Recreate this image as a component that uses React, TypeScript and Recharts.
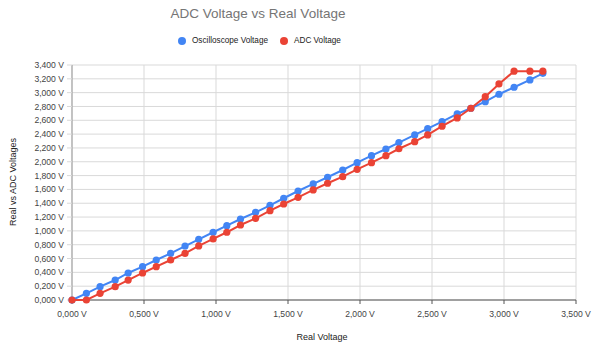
import { ScatterChart, Scatter, XAxis, YAxis, CartesianGrid } from 'recharts';

// measurement steps, all in mV
const realVoltage = [
  0, 100, 195, 300, 390, 490, 585, 685, 785, 880, 980, 1075, 1170, 1275, 1375, 1470, 1570,
  1675, 1775, 1880, 1980, 2080, 2180, 2270, 2380, 2470, 2570, 2675, 2770, 2870, 2965, 3070,
  3180, 3270,
];
const oscilloscopeVoltage = [
  0, 97, 193, 289, 391, 482, 579, 675, 781, 878, 980, 1075, 1172, 1269, 1370, 1472, 1577,
  1679, 1776, 1881, 1987, 2088, 2185, 2277, 2388, 2479, 2580, 2692, 2774, 2870, 2977, 3078,
  3184, 3280,
];
const adcVoltage = [
  0, 0, 97, 193, 289, 391, 482, 579, 675, 783, 883, 980, 1085, 1182, 1293, 1389, 1486, 1592,
  1689, 1785, 1891, 1987, 2088, 2188, 2291, 2388, 2514, 2634, 2774, 2942, 3126, 3310, 3310,
  3310,
];
const xTicks = [0, 500, 1000, 1500, 2000, 2500, 3000, 3500];
const yTicks = [
  0, 200, 400, 600, 800, 1000, 1200, 1400, 1600, 1800, 2000, 2200, 2400, 2600, 2800, 3000,
  3200, 3400,
];

const BLUE = '#4285F4';
const RED = '#EA4335';
const FONT = '"Liberation Sans", Arial, sans-serif';

const oscData = realVoltage.map((x, i) => ({ x, y: oscilloscopeVoltage[i] }));
const adcData = realVoltage.map((x, i) => ({ x, y: adcVoltage[i] }));

const fmt = (v: number) => (v / 1000).toFixed(3).replace('.', ',') + ' V';

const dot = (color: string) => (p: any) => <circle cx={p.cx} cy={p.cy} r={3.6} fill={color} />;

export default function App() {
  return (
    <div style={{ position: 'relative', width: 592, height: 345, fontFamily: FONT }}>
      <style>{'html, body { margin: 0; overflow: hidden; }'}</style>
      <ScatterChart width={592} height={345} margin={{ top: 65, right: 16, bottom: 0, left: 0 }}>
        <CartesianGrid stroke="#d9d9d9" />
        <XAxis
          type="number"
          dataKey="x"
          domain={[0, 3500]}
          ticks={xTicks}
          interval={0}
          tickFormatter={fmt}
          height={45}
          tickSize={4}
          tickMargin={7}
          stroke="#555"
          tick={{ fontSize: 8.6, fill: '#444', fontFamily: FONT }}
        />
        <YAxis
          type="number"
          dataKey="y"
          domain={[0, 3400]}
          ticks={yTicks}
          interval={0}
          tickFormatter={fmt}
          width={72}
          tickSize={5}
          tickMargin={3}
          stroke="#999"
          tickLine={{ stroke: '#d9d9d9' }}
          tick={{ fontSize: 8.6, fill: '#444', fontFamily: FONT }}
        />
        <Scatter
          name="Oscilloscope Voltage"
          data={oscData}
          fill={BLUE}
          line={{ stroke: BLUE, strokeWidth: 2 }}
          shape={dot(BLUE)}
          isAnimationActive={false}
        />
        <Scatter
          name="ADC Voltage"
          data={adcData}
          fill={RED}
          line={{ stroke: RED, strokeWidth: 2 }}
          shape={dot(RED)}
          isAnimationActive={false}
        />
      </ScatterChart>
      <div
        style={{
          position: 'absolute',
          zIndex: 2,
          top: 6,
          left: 0,
          width: 516,
          textAlign: 'center',
          fontSize: 13.5,
          color: '#757575',
        }}
      >
        ADC Voltage vs Real Voltage
      </div>
      <div
        style={{
          position: 'absolute',
          zIndex: 2,
          top: 36,
          left: 178,
          display: 'flex',
          alignItems: 'center',
          fontSize: 8.2,
          color: '#222',
        }}
      >
        <span style={{ width: 8, height: 8, borderRadius: 4, background: BLUE, marginRight: 6 }} />
        <span style={{ marginRight: 12 }}>Oscilloscope Voltage</span>
        <span style={{ width: 8, height: 8, borderRadius: 4, background: RED, marginRight: 6 }} />
        <span>ADC Voltage</span>
      </div>
      {/* axis titles */}
      <div
        style={{
          position: 'absolute',
          zIndex: 2,
          top: 332,
          left: 272,
          width: 100,
          textAlign: 'center',
          fontSize: 9,
          lineHeight: '10px',
          color: '#222',
        }}
      >
        Real Voltage
      </div>
      <div
        style={{
          position: 'absolute',
          zIndex: 2,
          top: 177,
          left: -37,
          width: 100,
          textAlign: 'center',
          fontSize: 9,
          color: '#222',
          transform: 'rotate(-90deg)',
          whiteSpace: 'nowrap',
        }}
      >
        Real vs ADC Voltages
      </div>
    </div>
  );
}
